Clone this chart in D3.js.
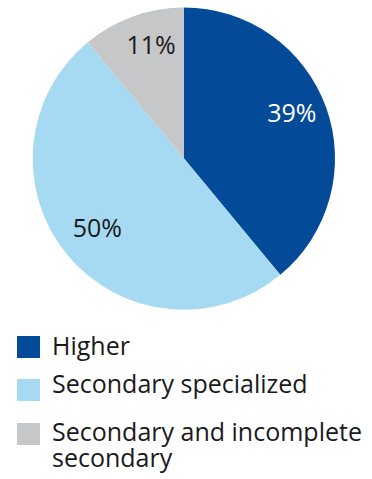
<!DOCTYPE html>
<html>
<head>
<meta charset="utf-8">
<script src="https://cdn.jsdelivr.net/npm/d3@7"></script>
<style>
  html, body { margin: 0; padding: 0; background: #ffffff; }
  svg { display: block; font-family: "Open Sans", "Noto Sans", sans-serif; }
</style>
</head>
<body>
<svg id="chart" width="372" height="479"></svg>
<script>
// Education level shares (%)
const categories = ["Higher", "Secondary specialized", "Secondary and incomplete secondary"];
const shares = [39, 50, 11];
const sliceColors = ["#034a98", "#a6daf2", "#c6c7c9"];
const labelColors = ["#ffffff", "#1a1a1a", "#1a1a1a"];
const legendLines = [["Higher"], ["Secondary specialized"], ["Secondary and incomplete", "secondary"]];

const svg = d3.select("#chart");
const cx = 184, cy = 158.5, radius = 151;

const pie = d3.pie().sort(null).value(d => d);
const arcs = pie(shares);
const arc = d3.arc().innerRadius(0).outerRadius(radius);

const g = svg.append("g").attr("transform", `translate(${cx},${cy})`);

g.selectAll("path.slice")
  .data(arcs)
  .join("path")
  .attr("class", "slice")
  .attr("d", arc)
  .attr("fill", (d, i) => sliceColors[i]);

// Percentage labels placed inside each slice (radius fraction, angular nudge in degrees)
const labelRadius = [0.775, 0.735, 0.78];
const labelNudge = [-3, 1, 3.6];
g.selectAll("text.pct")
  .data(arcs)
  .join("text")
  .attr("class", "pct")
  .attr("transform", (d, i) => {
    const a = (d.startAngle + d.endAngle) / 2 + labelNudge[i] * Math.PI / 180;
    const r = radius * labelRadius[i];
    return `translate(${r * Math.sin(a)},${-r * Math.cos(a)})`;
  })
  .attr("text-anchor", "middle")
  .attr("dy", "0.36em")
  .attr("font-size", 25)
  .attr("fill", (d, i) => labelColors[i])
  .text(d => d.data + "%");

// Legend
const legendTop = [336, 379, 423];
const legendBaseline = [19, 14, 18];
const legend = svg.append("g");
categories.forEach((c, i) => {
  const row = legend.append("g").attr("transform", `translate(17,${legendTop[i]})`);
  row.append("rect")
    .attr("width", 23).attr("height", 22)
    .attr("fill", sliceColors[i]);
  legendLines[i].forEach((line, j) => {
    row.append("text")
      .attr("x", 35)
      .attr("y", legendBaseline[i] + j * 26)
      .attr("font-size", 25)
      .attr("fill", "#1a1a1a")
      .text(line);
  });
});
</script>
</body>
</html>
